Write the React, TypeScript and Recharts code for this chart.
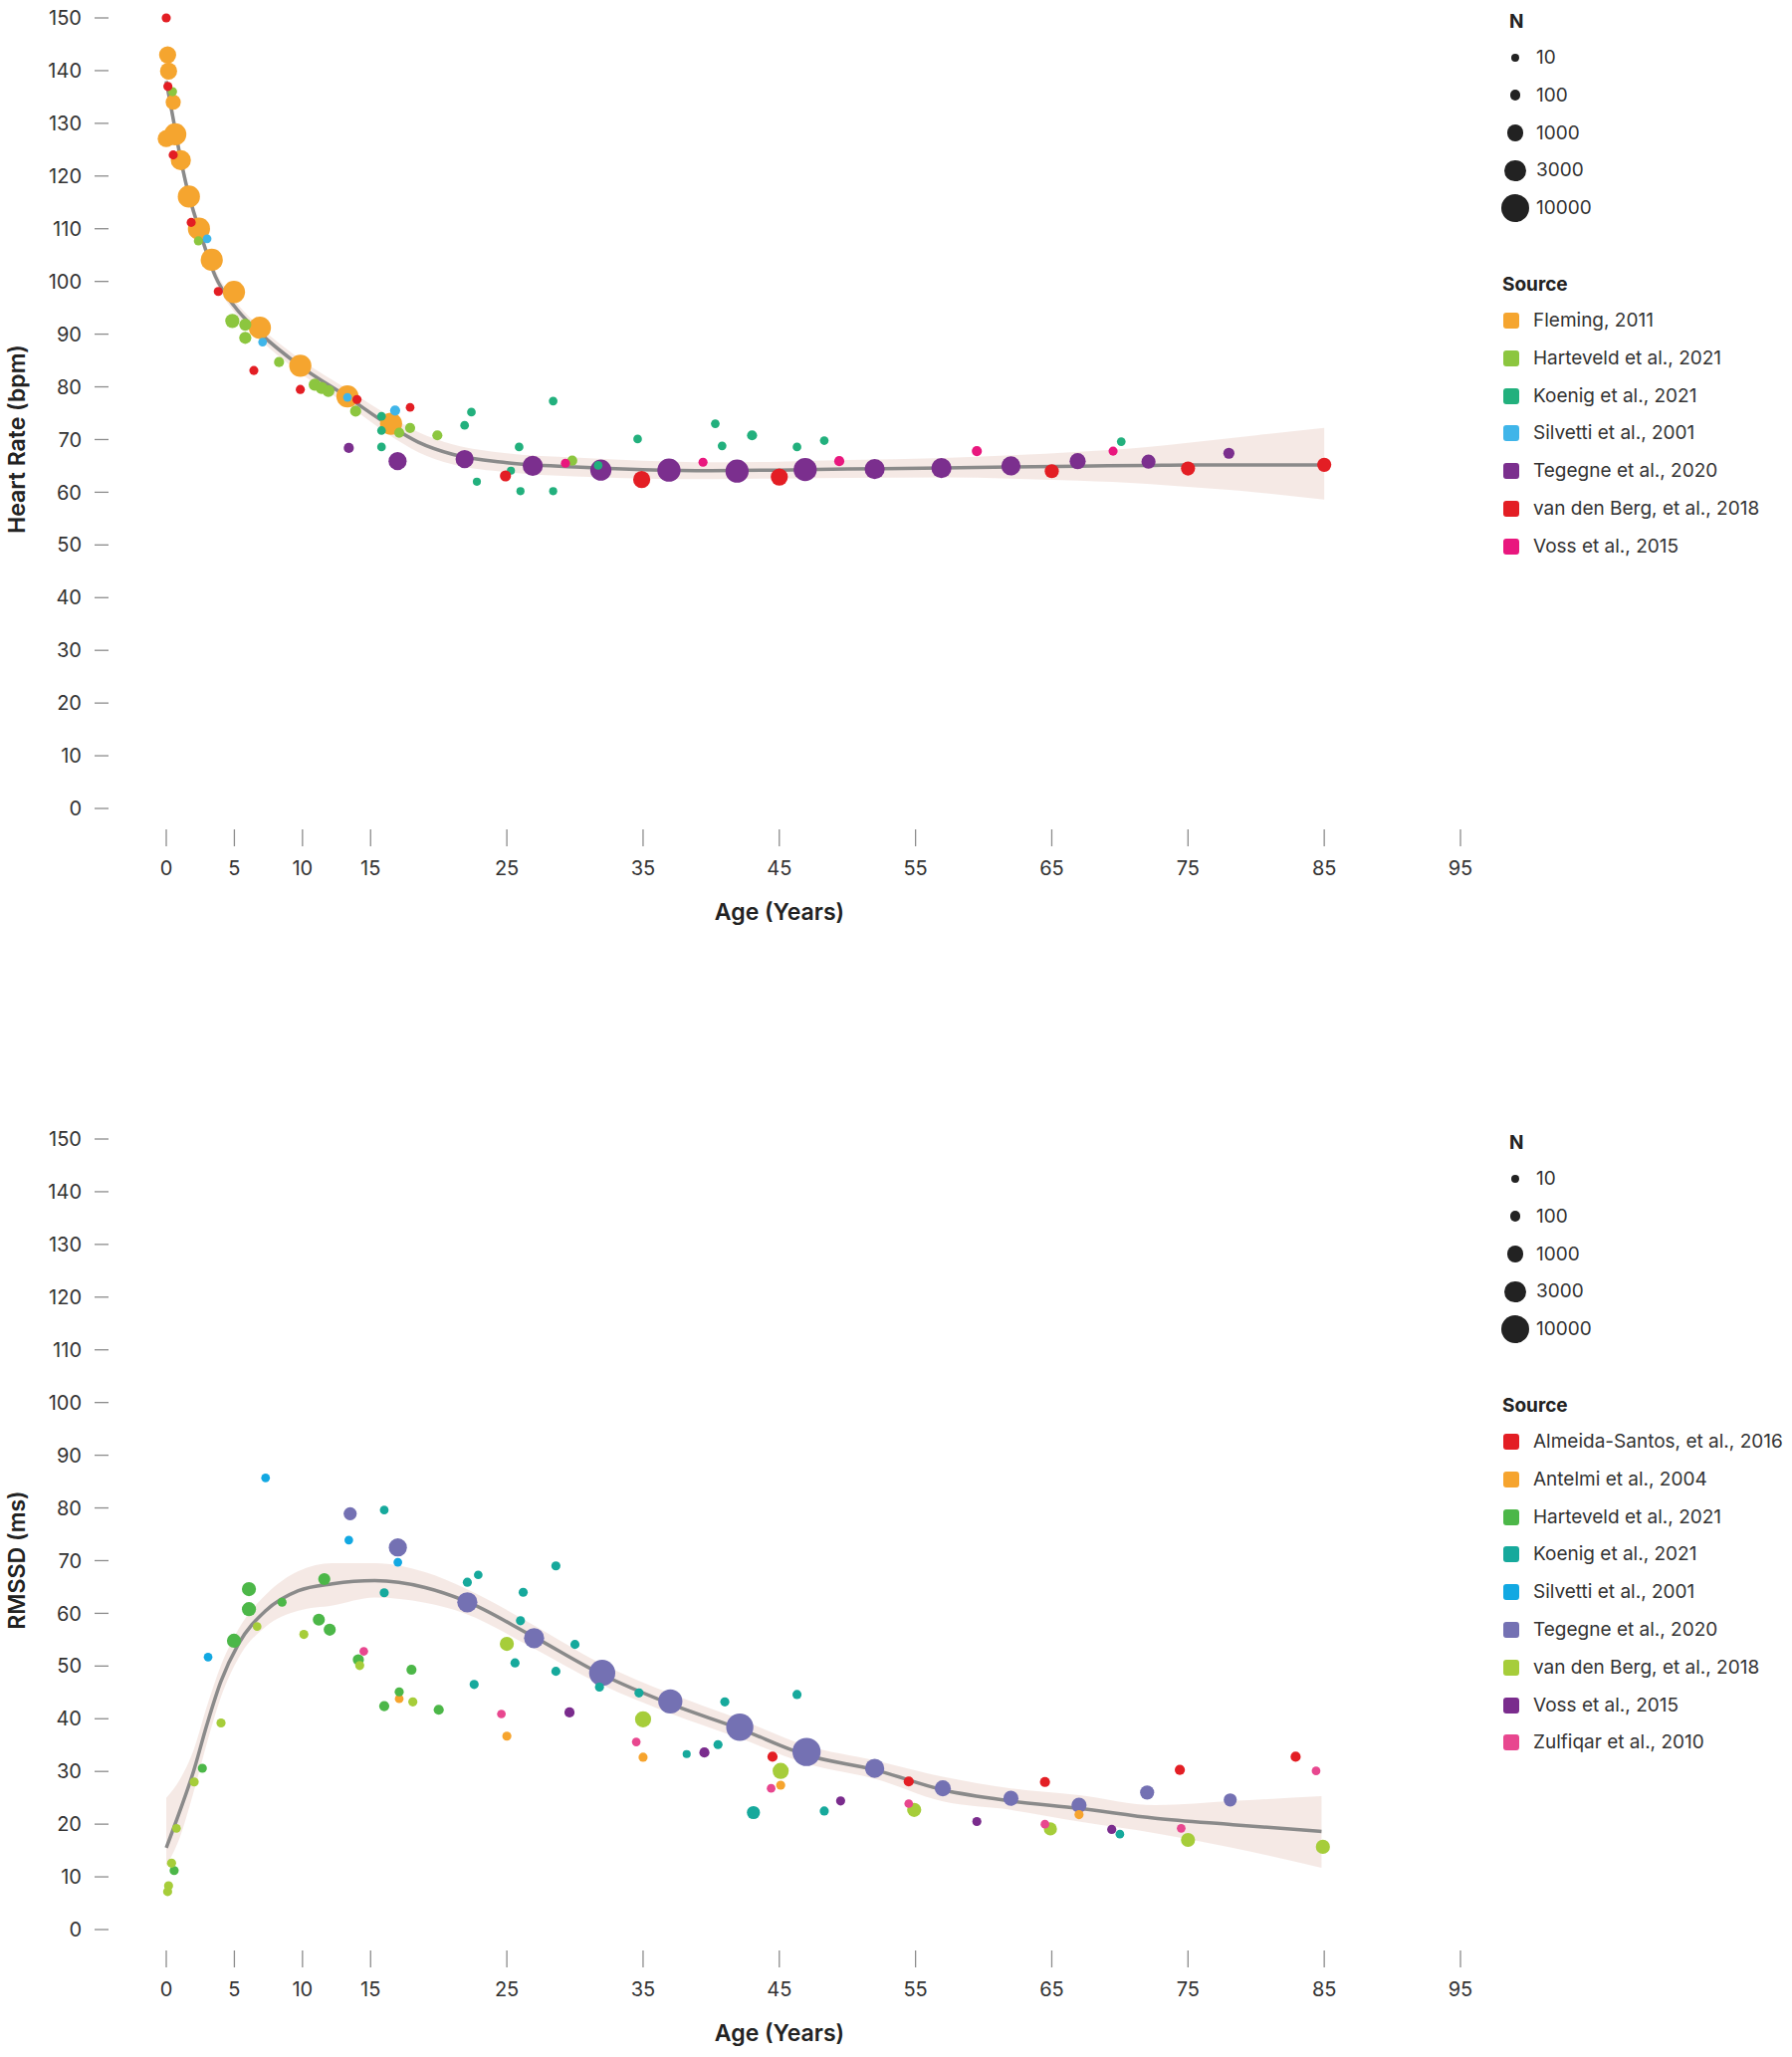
import React from 'react';
import { ComposedChart, Scatter, Line, Area, XAxis, YAxis, ZAxis, Label } from 'recharts';

type Pt = { age: number; v: number; n: number };
type Fit = { age: number; v: number; lo: number; hi: number };
const p = (age: number, v: number, n: number): Pt => ({ age, v, n });
const f = (age: number, v: number, lo: number, hi: number): Fit => ({ age, v, lo, hi });

const FONT = 'Inter, "Noto Sans", sans-serif';
const X_TICKS = [0, 5, 10, 15, 25, 35, 45, 55, 65, 75, 85, 95];
const Y_TICKS = [0, 10, 20, 30, 40, 50, 60, 70, 80, 90, 100, 110, 120, 130, 140, 150];
const SIZE_LEGEND = [10, 100, 1000, 3000, 10000];
const SIZE_DOMAIN: [number, number] = [10, 10000];
const SIZE_RANGE: [number, number] = [52, 630];

// ---------- Heart rate panel ----------
const hrFleming: Pt[] = [
  p(0.1, 143, 1120), p(0.17, 139.9, 1120), p(0.51, 134, 620), p(0, 127.1, 1120), p(0.66, 127.9, 3570),
  p(1.07, 123, 2350), p(1.66, 116.1, 3570), p(2.4, 110, 3570), p(3.34, 104.1, 3570), p(4.97, 98, 3570),
  p(6.87, 91.2, 3570), p(9.84, 84, 3570), p(13.3, 78.2, 3570), p(16.5, 73, 3570),
];
const hrTegegne: Pt[] = [
  p(13.4, 68.4, 65), p(16.98, 65.9, 1460), p(21.9, 66.3, 1460), p(26.9, 65.0, 2350), p(31.9, 64.2, 2900),
  p(36.9, 64.2, 4330), p(41.9, 64.0, 4330), p(46.9, 64.3, 4330), p(52.0, 64.4, 2350), p(56.9, 64.6, 2350),
  p(62.0, 65.0, 1870), p(66.9, 65.9, 840), p(72.1, 65.8, 440), p(78.0, 67.4, 120),
];
const hrHarteveld: Pt[] = [
  p(0.46, 136, 30), p(2.36, 107.7, 30), p(4.85, 92.5, 440), p(5.8, 91.8, 195), p(5.8, 89.3, 195),
  p(8.28, 84.7, 65), p(10.9, 80.4, 195), p(11.4, 79.8, 195), p(11.9, 79.2, 195), p(13.9, 75.4, 120),
  p(17.1, 71.3, 65), p(17.9, 72.2, 65), p(19.9, 70.8, 65), p(29.8, 66, 65),
];
const hrKoenig: Pt[] = [
  p(15.8, 74.4, 20), p(15.8, 71.7, 20), p(15.8, 68.6, 20), p(21.9, 72.7, 20), p(22.4, 75.2, 20),
  p(22.8, 62.0, 10), p(25.3, 64.1, 10), p(25.9, 68.6, 20), p(26.0, 60.2, 10), p(28.4, 60.2, 10),
  p(28.4, 77.3, 20), p(31.7, 65.1, 20), p(34.6, 70.1, 20), p(40.3, 73.0, 20), p(40.8, 68.8, 20),
  p(43.0, 70.8, 65), p(46.3, 68.6, 20), p(48.3, 69.8, 20), p(70.1, 69.6, 20),
];
const hrSilvetti: Pt[] = [p(3.0, 108.1, 20), p(7.07, 88.5, 20), p(13.3, 78.0, 20), p(16.8, 75.5, 65)];
const hrVanDenBerg: Pt[] = [
  p(0, 150, 30), p(0.12, 137, 30), p(0.51, 124, 30), p(1.83, 111.2, 30), p(3.82, 98.1, 30),
  p(6.43, 83.1, 30), p(9.84, 79.5, 30), p(14.0, 77.6, 30), p(17.9, 76.1, 20), p(24.9, 63.1, 120),
  p(34.9, 62.4, 1120), p(45.0, 62.9, 1120), p(65.0, 64.0, 440), p(75.0, 64.5, 440), p(85.0, 65.2, 440),
];
const hrVoss: Pt[] = [p(29.3, 65.5, 30), p(39.4, 65.7, 30), p(49.4, 65.9, 65), p(59.5, 67.8, 65), p(69.5, 67.8, 30)];

const hrFit: Fit[] = [
  f(0, 138, 136, 140), f(0.5, 131, 129.5, 132.5), f(1, 124, 122.5, 125.5), f(1.5, 118, 116.6, 119.4),
  f(2.4, 110, 108.8, 111.2), f(3.6, 101, 100, 102.2), f(5, 95.3, 94.2, 96.5), f(7, 89.9, 88.7, 91.1),
  f(9.7, 84.2, 82.9, 85.5), f(13.4, 77.9, 76.4, 79.4), f(16.3, 72.8, 71, 74.6), f(18.5, 69.5, 67.6, 71.4),
  f(21, 67.2, 65.3, 69.1), f(25, 65.6, 63.8, 67.4), f(30, 64.8, 63, 66.6), f(35, 64.3, 62.6, 66),
  f(40, 64.1, 62.5, 65.7), f(45, 64.2, 62.6, 65.8), f(50, 64.4, 62.7, 66.1), f(57, 64.6, 62.8, 66.5),
  f(62, 64.8, 62.6, 67), f(67, 64.95, 62.2, 67.7), f(72, 65.1, 61.6, 68.6), f(75, 65.2, 61, 69.4),
  f(80, 65.2, 60, 70.8), f(85, 65.2, 58.6, 72.2),
];

// ---------- RMSSD panel ----------
const rmTegegne: Pt[] = [
  p(13.5, 78.9, 300), p(17.0, 72.5, 1460), p(22.1, 62.1, 2350), p(27.0, 55.3, 2350), p(32.0, 48.7, 7300),
  p(37.0, 43.3, 5200), p(42.1, 38.4, 8600), p(47.0, 33.7, 10000), p(52.0, 30.6, 1870), p(57.0, 26.8, 840),
  p(62.0, 24.9, 620), p(67.0, 23.6, 620), p(72.0, 26.0, 440), p(78.1, 24.6, 300),
];
const rmAlmeida: Pt[] = [p(44.5, 32.8, 65), p(54.5, 28.1, 65), p(64.5, 28.0, 65), p(74.4, 30.3, 65), p(82.9, 32.8, 65)];
const rmAntelmi: Pt[] = [p(17.1, 43.8, 20), p(25.0, 36.7, 30), p(35.0, 32.7, 30), p(45.1, 27.4, 30), p(67.0, 21.8, 30)];
const rmHarteveld: Pt[] = [
  p(0.58, 11.2, 30), p(2.65, 30.6, 30), p(4.97, 54.8, 440), p(6.07, 64.6, 440), p(6.07, 60.8, 440),
  p(8.5, 62.1, 30), p(11.2, 58.8, 195), p(11.6, 66.5, 195), p(12.0, 56.9, 195), p(14.1, 51.2, 120),
  p(16.0, 42.4, 65), p(17.1, 45.1, 30), p(18.0, 49.3, 65), p(20.0, 41.7, 65),
];
const rmKoenig: Pt[] = [
  p(16.0, 79.6, 20), p(16.0, 63.9, 30), p(22.1, 65.9, 30), p(22.9, 67.3, 20), p(22.6, 46.5, 30),
  p(25.6, 50.6, 30), p(26.0, 58.6, 30), p(26.2, 64.0, 30), p(28.6, 69.0, 30), p(28.6, 49.0, 30),
  p(30.0, 54.1, 30), p(31.8, 46.0, 30), p(34.7, 44.9, 30), p(38.2, 33.3, 10), p(40.5, 35.1, 30),
  p(41.0, 43.2, 30), p(43.1, 22.2, 300), p(46.3, 44.6, 30), p(48.3, 22.5, 30), p(70.0, 18.1, 20),
];
const rmSilvetti: Pt[] = [p(3.07, 51.7, 20), p(7.29, 85.7, 20), p(13.4, 73.9, 20), p(17.0, 69.7, 20)];
const rmVanDenBerg: Pt[] = [
  p(0.1, 7.2, 30), p(0.17, 8.3, 30), p(0.39, 12.6, 30), p(0.75, 19.2, 20), p(2.05, 28.0, 30),
  p(4.02, 39.2, 30), p(6.67, 57.5, 20), p(10.1, 56.0, 30), p(14.2, 50.1, 30), p(18.1, 43.2, 30),
  p(25.0, 54.2, 440), p(35.0, 39.9, 840), p(45.1, 30.1, 840), p(54.9, 22.7, 440), p(64.9, 19.1, 300),
  p(75.0, 17.0, 440), p(84.9, 15.7, 440),
];
const rmVoss: Pt[] = [p(29.6, 41.2, 65), p(39.5, 33.6, 65), p(49.5, 24.4, 30), p(59.5, 20.5, 30), p(69.4, 19.0, 30)];
const rmZulfiqar: Pt[] = [
  p(14.5, 52.8, 20), p(24.6, 40.9, 20), p(34.5, 35.6, 20), p(44.4, 26.8, 20), p(54.5, 23.9, 20),
  p(64.5, 20.0, 20), p(74.5, 19.2, 20), p(84.4, 30.1, 20),
];

const rmFit: Fit[] = [
  f(0, 15.5, 12, 25), f(1, 22.5, 17.5, 28.5), f(2, 30, 26, 34), f(3, 39, 35.5, 42.5), f(4, 47, 44, 50),
  f(5.3, 54.2, 51.5, 57), f(7.3, 60.5, 57.5, 63.5), f(9.7, 64.3, 60.5, 68), f(12.2, 65.6, 61.5, 69.5),
  f(15.3, 66.2, 63, 69.5), f(19, 64.9, 62, 67.8), f(21.9, 62.4, 60, 64.8), f(26.8, 55.8, 53.6, 58),
  f(31.9, 48.5, 46.5, 50.5), f(37, 42.8, 41, 44.8), f(42.1, 38.1, 36.3, 39.9), f(47, 33.1, 31.5, 34.9),
  f(52, 30.3, 28.6, 32.1), f(57, 26.5, 24.3, 29), f(62, 24.4, 22.7, 26.8), f(67, 23.0, 20.5, 25.5),
  f(72.6, 21.1, 18.3, 23.6), f(78.3, 19.9, 15.5, 24.4), f(84.8, 18.6, 11.7, 25.3),
];

type Source = { name: string; color: string; data: Pt[] };

// drawing order (large series first)
const hrSources: Source[] = [
  { name: 'Fleming, 2011', color: '#F5A52F', data: hrFleming },
  { name: 'Tegegne et al., 2020', color: '#7B2F8E', data: hrTegegne },
  { name: 'Harteveld et al., 2021', color: '#8CC63F', data: hrHarteveld },
  { name: 'Koenig et al., 2021', color: '#22B07D', data: hrKoenig },
  { name: 'Silvetti et al., 2001', color: '#3FB5E9', data: hrSilvetti },
  { name: 'van den Berg, et al., 2018', color: '#E31E24', data: hrVanDenBerg },
  { name: 'Voss et al., 2015', color: '#E9177E', data: hrVoss },
];
const hrLegend = [
  'Fleming, 2011', 'Harteveld et al., 2021', 'Koenig et al., 2021', 'Silvetti et al., 2001',
  'Tegegne et al., 2020', 'van den Berg, et al., 2018', 'Voss et al., 2015',
];

const rmSources: Source[] = [
  { name: 'Tegegne et al., 2020', color: '#7471B3', data: rmTegegne },
  { name: 'Almeida-Santos, et al., 2016', color: '#E31E24', data: rmAlmeida },
  { name: 'Antelmi et al., 2004', color: '#F6A42E', data: rmAntelmi },
  { name: 'Harteveld et al., 2021', color: '#4CB748', data: rmHarteveld },
  { name: 'Koenig et al., 2021', color: '#16A99C', data: rmKoenig },
  { name: 'Silvetti et al., 2001', color: '#12A8E2', data: rmSilvetti },
  { name: 'van den Berg, et al., 2018', color: '#A6CD3A', data: rmVanDenBerg },
  { name: 'Voss et al., 2015', color: '#7A2C8D', data: rmVoss },
  { name: 'Zulfiqar et al., 2010', color: '#E8478F', data: rmZulfiqar },
];
const rmLegend = [
  'Almeida-Santos, et al., 2016', 'Antelmi et al., 2004', 'Harteveld et al., 2021', 'Koenig et al., 2021',
  'Silvetti et al., 2001', 'Tegegne et al., 2020', 'van den Berg, et al., 2018', 'Voss et al., 2015',
  'Zulfiqar et al., 2010',
];

// legend circle diameter mirrors the sqrt size scale used by ZAxis
const legendDiameter = (n: number) => {
  const t = (Math.sqrt(n) - Math.sqrt(SIZE_DOMAIN[0])) / (Math.sqrt(SIZE_DOMAIN[1]) - Math.sqrt(SIZE_DOMAIN[0]));
  const area = SIZE_RANGE[0] + t * (SIZE_RANGE[1] - SIZE_RANGE[0]);
  return 2 * Math.sqrt(area / Math.PI);
};

const TICK_STYLE = { fill: '#333', fontSize: 20, fontFamily: FONT };
const TITLE_STYLE: React.CSSProperties = { fontFamily: FONT, fontWeight: 600, fontSize: 23, fill: '#222' } as any;

function Panel({ sources, fit, yLabel, top }: { sources: Source[]; fit: Fit[]; yLabel: string; top: number }) {
  return (
    <div style={{ position: 'absolute', left: 0, top }}>
      <ComposedChart width={1500} height={940} margin={{ top: 18, right: 33, left: 0, bottom: 7 }}>
        <XAxis
          dataKey="age"
          type="number"
          domain={[0, 95]}
          ticks={X_TICKS}
          interval={0}
          padding={{ left: 58, right: 0 }}
          axisLine={false}
          tickLine={{ stroke: '#8c8c8c', strokeWidth: 1.3 }}
          tickSize={17}
          tickMargin={15}
          tick={TICK_STYLE}
          height={100}
        >
          <Label
            content={() => (
              <text x={783} y={916} textAnchor="middle" dominantBaseline="central" style={TITLE_STYLE}>
                Age (Years)
              </text>
            )}
          />
        </XAxis>
        <YAxis
          dataKey="v"
          type="number"
          domain={[0, 150]}
          ticks={Y_TICKS}
          interval={0}
          padding={{ top: 0, bottom: 21 }}
          width={109}
          axisLine={false}
          tickLine={{ stroke: '#8c8c8c', strokeWidth: 1.3 }}
          tickSize={14}
          tickMargin={13}
          tick={TICK_STYLE}
        >
          <Label
            content={() => (
              <text
                transform="translate(17, 441) rotate(-90)"
                textAnchor="middle"
                dominantBaseline="central"
                style={TITLE_STYLE}
              >
                {yLabel}
              </text>
            )}
          />
        </YAxis>
        <ZAxis dataKey="n" type="number" domain={SIZE_DOMAIN} range={SIZE_RANGE} scale="sqrt" />
        <Area
          data={fit}
          dataKey={(d: Fit) => [d.lo, d.hi]}
          type="monotone"
          stroke="none"
          fill="#f3e4df"
          fillOpacity={0.8}
          isAnimationActive={false}
        />
        {sources.map((s) => (
          <Scatter key={s.name} name={s.name} data={s.data} dataKey="v" fill={s.color} isAnimationActive={false} />
        ))}
        <Line
          data={fit}
          dataKey="v"
          type="monotone"
          stroke="#8a8a8a"
          strokeWidth={3.5}
          dot={false}
          activeDot={false}
          isAnimationActive={false}
        />
      </ComposedChart>
    </div>
  );
}

function SideLegend({ top, names, colors }: { top: number; names: string[]; colors: Record<string, string> }) {
  const textStyle: React.CSSProperties = { fontFamily: FONT, fontSize: 19, color: '#333', whiteSpace: 'nowrap' };
  const titleStyle: React.CSSProperties = { fontFamily: FONT, fontSize: 19, fontWeight: 700, color: '#222' };
  return (
    <>
      <div style={{ position: 'absolute', left: 1516, top: top + 22 - 12, height: 24, lineHeight: '24px', ...titleStyle }}>N</div>
      {SIZE_LEGEND.map((n, i) => {
        const cy = top + 58 + i * 37.8;
        const d = legendDiameter(n);
        return (
          <div key={n}>
            <div
              style={{
                position: 'absolute',
                left: 1522 - d / 2,
                top: cy - d / 2,
                width: d,
                height: d,
                borderRadius: '50%',
                background: '#222',
              }}
            />
            <div style={{ position: 'absolute', left: 1543, top: cy - 12, height: 24, lineHeight: '24px', ...textStyle }}>{n}</div>
          </div>
        );
      })}
      <div style={{ position: 'absolute', left: 1509, top: top + 286 - 12, height: 24, lineHeight: '24px', ...titleStyle }}>Source</div>
      {names.map((name, i) => {
        const cy = top + 322 + i * 37.8;
        return (
          <div key={name}>
            <div
              style={{
                position: 'absolute',
                left: 1510,
                top: cy - 8,
                width: 16,
                height: 16,
                borderRadius: 3,
                background: colors[name],
              }}
            />
            <div style={{ position: 'absolute', left: 1540, top: cy - 12, height: 24, lineHeight: '24px', ...textStyle }}>{name}</div>
          </div>
        );
      })}
    </>
  );
}

export default function App() {
  const hrColors: Record<string, string> = {};
  hrSources.forEach((s) => (hrColors[s.name] = s.color));
  const rmColors: Record<string, string> = {};
  rmSources.forEach((s) => (rmColors[s.name] = s.color));
  return (
    <div style={{ position: 'absolute', left: 0, top: 0, width: 1800, height: 2066, background: '#fff', overflow: 'hidden' }}>
      <Panel sources={hrSources} fit={hrFit} yLabel="Heart Rate (bpm)" top={0} />
      <Panel sources={rmSources} fit={rmFit} yLabel="RMSSD (ms)" top={1126} />
      <SideLegend top={0} names={hrLegend} colors={hrColors} />
      <SideLegend top={1126} names={rmLegend} colors={rmColors} />
    </div>
  );
}
